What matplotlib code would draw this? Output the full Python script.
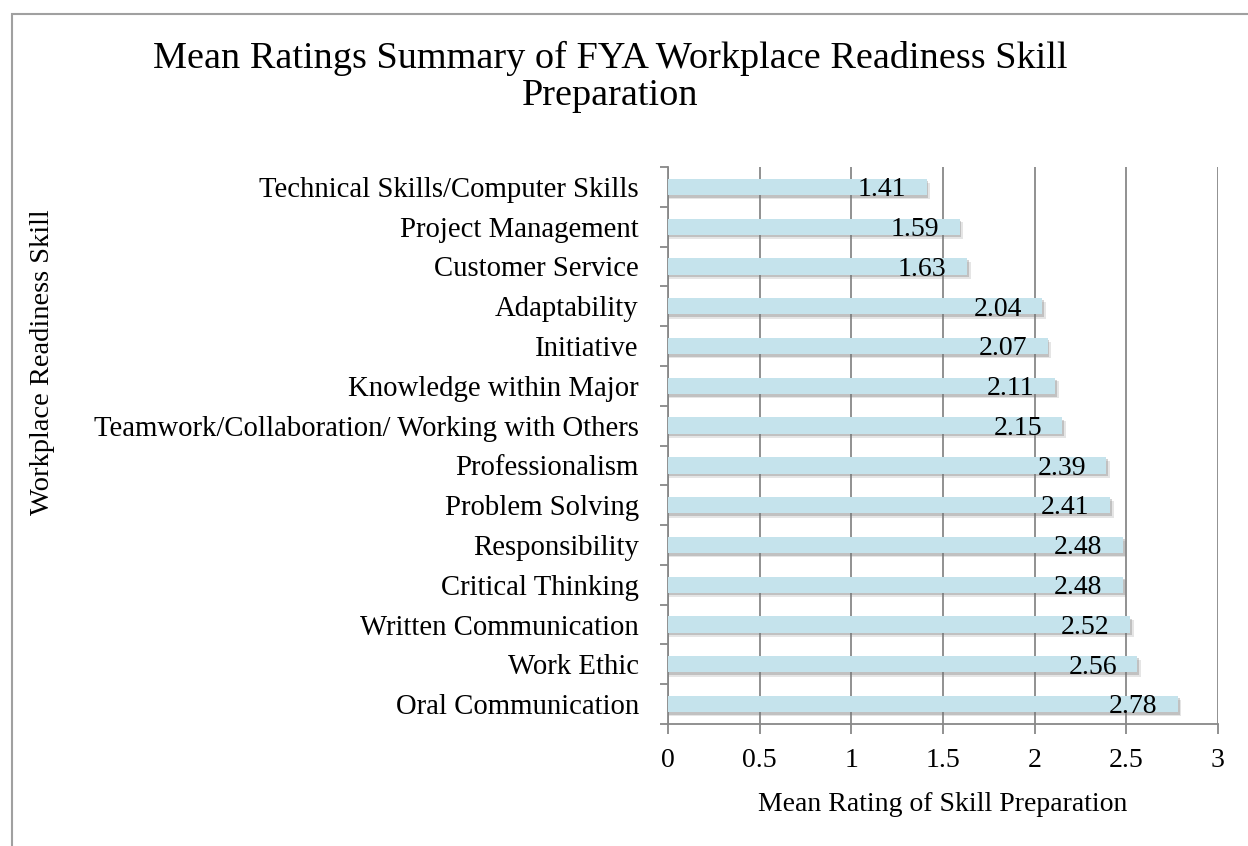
import matplotlib.pyplot as plt
from matplotlib.patches import Rectangle

skills = ["Technical Skills/Computer Skills", "Project Management", "Customer Service",
          "Adaptability", "Initiative", "Knowledge within Major",
          "Teamwork/Collaboration/ Working with Others", "Professionalism",
          "Problem Solving", "Responsibility", "Critical Thinking",
          "Written Communication", "Work Ethic", "Oral Communication"]
means = [1.41, 1.59, 1.63, 2.04, 2.07, 2.11, 2.15, 2.39, 2.41, 2.48, 2.48, 2.52, 2.56, 2.78]
xticks = [0, 0.5, 1, 1.5, 2, 2.5, 3]
xticklabels = ["0", "0.5", "1", "1.5", "2", "2.5", "3"]

plt.rcParams['font.family'] = ['Liberation Serif', 'DejaVu Serif']

W, H = 1248, 846
fig = plt.figure(figsize=(W / 100, H / 100), dpi=100)
# outer chart frame (only left and top edges visible)
fig.patches.append(Rectangle((12 / W, -0.1), 1.1, 1.1 - 14 / H, transform=fig.transFigure,
                             fill=False, edgecolor='#a0a0a0', linewidth=1.5))
ax = fig.add_axes([668 / W, 1 - 724 / H, 550 / W, 557 / H])

ypos = list(range(len(skills)))
# soft shadow under each bar
ax.barh([y + 0.10 for y in ypos], [m + 0.02 for m in means], height=0.42,
        color='#808080', alpha=0.2, zorder=2)
ax.barh([y + 0.06 for y in ypos], [m + 0.01 for m in means], height=0.42,
        color='#707070', alpha=0.3, zorder=2)
ax.barh(ypos, means, height=0.41, color='#c5e3ec', zorder=3)
for y, m in zip(ypos, means):
    ax.text(m - 0.11, y + 0.07, f"{m:.2f}", ha='right', va='center', fontsize=20, zorder=4)

ax.set_ylim(len(skills) - 0.5, -0.5)
ax.set_xlim(0, 3)
ax.set_xticks(xticks)
ax.set_xticklabels(xticklabels, fontsize=20)
ax.set_yticks(ypos)
ax.set_yticklabels(skills, fontsize=20.7)
ax.set_yticks([y + 0.5 for y in [-1] + ypos], minor=True)
ax.tick_params(axis='y', which='major', length=0, pad=21)
ax.tick_params(axis='y', which='minor', length=6, color='#888888', width=1.3)
ax.tick_params(axis='x', length=7, color='#888888', width=1.3, pad=10)
ax.grid(axis='x', color='#888888', linewidth=1.3, zorder=0)
ax.set_axisbelow(True)
for s in ['top', 'right']:
    ax.spines[s].set_visible(False)
for s in ['left', 'bottom']:
    ax.spines[s].set_color('#888888')
    ax.spines[s].set_linewidth(1.3)

ax.set_xlabel("Mean Rating of Skill Preparation", fontsize=20, labelpad=14)
fig.text(43 / W, 1 - 362 / H, "Workplace Readiness Skill", rotation=90,
         ha='center', va='center', fontsize=20.5)
fig.text(610 / W, 1 - 77 / H,
         "Mean Ratings Summary of FYA Workplace Readiness Skill\nPreparation",
         ha='center', va='center', fontsize=27.5, linespacing=1.12)

fig.savefig("out.png", dpi=100)
